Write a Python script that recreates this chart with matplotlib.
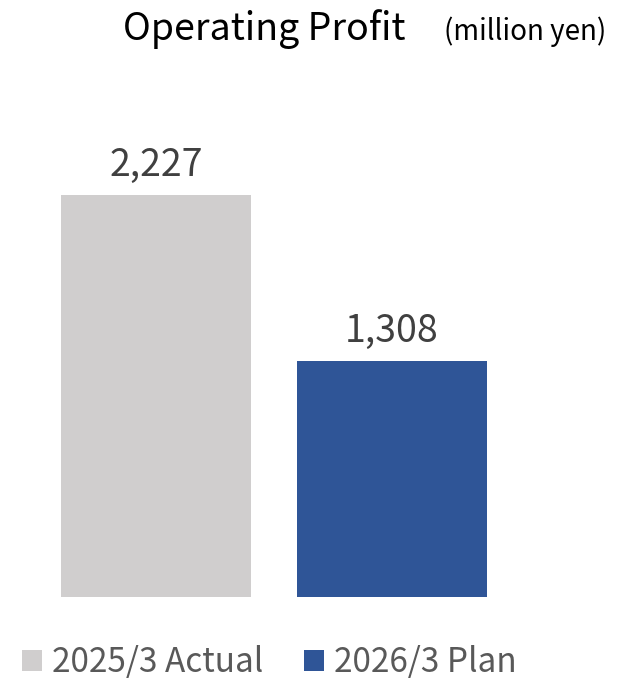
import matplotlib.pyplot as plt

plt.rcParams['font.family'] = ['Noto Sans CJK JP', 'DejaVu Sans']

# 営業利益（百万円）
periods = ["2025/3 Actual", "2026/3 Plan"]
profit = [2227, 1308]
colors = ["#d0cece", "#2f5597"]

fig = plt.figure(figsize=(6.29, 6.82), dpi=100)
ax = fig.add_axes([0, 85 / 682, 1, 597 / 682])

x = [0, 1]
bars = ax.bar(x, profit, width=0.805, color=colors, label=periods)
for xi, v in zip(x, profit):
    ax.text(xi, v + 55, f"{v:,}", ha="center", va="bottom",
            fontsize=27, color="#404040")

ax.set_xlim(-0.661, 2.004)
ax.set_ylim(0, 2227 * 597 / 402)
ax.axis("off")

fig.text(0.42, 0.958, "Operating Profit", ha="center", va="center",
         fontsize=27, color="black")
fig.text(0.835, 0.953, "(million yen)", ha="center", va="center",
         fontsize=20, color="black")

fig.legend(bars, periods, loc="center", bbox_to_anchor=(0.428, 0.028),
           ncol=2, frameon=False, fontsize=24, labelcolor="#595959",
           handlelength=0.6, handleheight=0.6, handletextpad=0.3,
           columnspacing=1.2, borderpad=0.0)

fig.savefig("out.png", dpi=100)
